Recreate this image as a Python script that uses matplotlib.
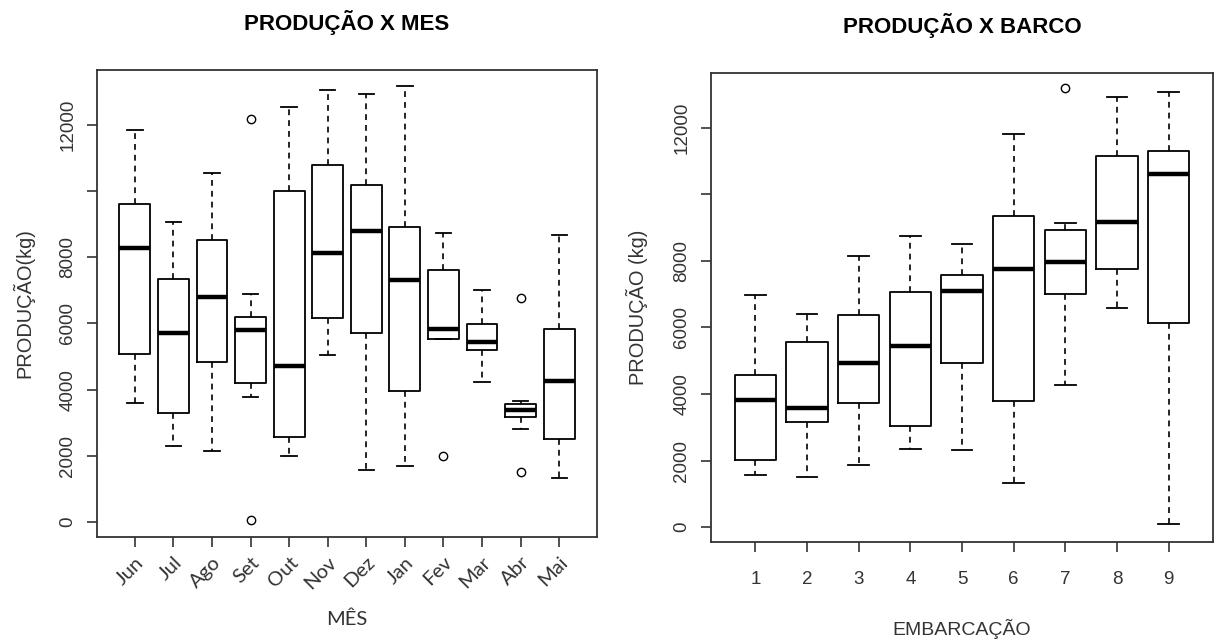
import matplotlib
matplotlib.use("Agg")
import matplotlib.pyplot as plt

# ---- Data: PRODUÇÃO x MÊS ----
months = ["Jun", "Jul", "Ago", "Set", "Out", "Nov", "Dez", "Jan", "Fev", "Mar", "Abr", "Mai"]
m_whislo = [3600, 2300, 2160, 3790, 2010, 5040, 1560, 1680, 5540, 4240, 2810, 1330]
m_q1     = [5080, 3290, 4840, 4200, 2580, 6150, 5720, 3970, 5540, 5210, 3180, 2510]
m_med    = [8280, 5720, 6790, 5810, 4700, 8130, 8780, 7320, 5840, 5440, 3390, 4270]
m_q3     = [9610, 7330, 8510, 6180, 9990, 10790, 10180, 8920, 7600, 5990, 3570, 5840]
m_whishi = [11830, 9070, 10530, 6900, 12530, 13040, 12940, 13160, 8730, 7020, 3650, 8660]
m_fliers = [[], [], [], [12180, 70], [], [], [], [], [2010], [], [6760, 1520], []]

# ---- Data: PRODUÇÃO x BARCO ----
boats = ["1", "2", "3", "4", "5", "6", "7", "8", "9"]
b_whislo = [1550, 1510, 1880, 2350, 2320, 1310, 4260, 6590, 80]
b_q1     = [2010, 3150, 3720, 3030, 4940, 3800, 7020, 7750, 6140]
b_med    = [3810, 3590, 4940, 5440, 7090, 7750, 7970, 9160, 10610]
b_q3     = [4560, 5560, 6370, 7080, 7590, 9350, 8920, 11150, 11310]
b_whishi = [6990, 6410, 8160, 8740, 8520, 11810, 9150, 12940, 13070]
b_fliers = [[], [], [], [], [], [], [13190], [], []]

y_ticks = [0, 2000, 4000, 6000, 8000, 10000, 12000]
y_ticklabels = ["0", "2000", "4000", "6000", "8000", "", "12000"]


def make_stats(lo, q1, med, q3, hi, fl):
    return [dict(whislo=a, q1=b, med=c, q3=d, whishi=e, fliers=f)
            for a, b, c, d, e, f in zip(lo, q1, med, q3, hi, fl)]


num_font = ["Liberation Sans", "DejaVu Sans"]
lab_font = ["Lato", "DejaVu Sans"]
txt_col = "#333333"

fig = plt.figure(figsize=(12.14, 6.4), dpi=100)
ax1 = fig.add_axes([0.0799, 0.1609, 0.4119, 0.7297])
ax2 = fig.add_axes([0.5857, 0.1531, 0.4135, 0.7328])

style = dict(
    boxprops=dict(color="black", linewidth=1.3),
    medianprops=dict(color="black", linewidth=3.2, solid_capstyle="butt"),
    whiskerprops=dict(color="black", linewidth=1.2, linestyle=(0, (3.5, 3))),
    capprops=dict(color="black", linewidth=1.3),
    flierprops=dict(marker="o", markerfacecolor="none", markeredgecolor="black",
                    markersize=6, markeredgewidth=1.0, linestyle="none"),
)


def draw(ax, stats, n):
    ax.bxp(stats, positions=range(1, n + 1), widths=0.8, capwidths=0.4,
           showfliers=True, patch_artist=False, **style)
    ax.set_xlim(0.5 - 0.04 * n, n + 0.5 + 0.04 * n)
    ax.set_ylim(-450, 13650)
    ax.set_yticks(y_ticks)
    ax.set_yticklabels(y_ticklabels, rotation=90, va="center", family=num_font,
                       fontsize=13.5, color=txt_col)
    for s in ax.spines.values():
        s.set_linewidth(1.3)
        s.set_color(txt_col)
    ax.tick_params(axis="both", direction="out", length=7, width=1.2, color=txt_col)
    ax.tick_params(axis="y", pad=8)


draw(ax1, make_stats(m_whislo, m_q1, m_med, m_q3, m_whishi, m_fliers), len(months))
ax1.set_xticks(range(1, len(months) + 1))
ax1.set_xticklabels(months, rotation=45, ha="right", va="top", rotation_mode="anchor",
                    family=lab_font, fontsize=14.5, color=txt_col)
ax1.tick_params(axis="x", pad=5)
ax1.set_ylabel("PRODUÇÃO(kg)", family=num_font, fontsize=14.4, color=txt_col, labelpad=18)
ax1.set_xlabel("MÊS", family=lab_font, fontsize=14.5, color=txt_col, labelpad=13)
ax1.set_title("PRODUÇÃO X MES", family=num_font, fontsize=16, fontweight="bold", pad=28.5)

draw(ax2, make_stats(b_whislo, b_q1, b_med, b_q3, b_whishi, b_fliers), len(boats))
ax2.set_xticks(range(1, len(boats) + 1))
ax2.set_xticklabels(boats, family=num_font, fontsize=13.5, color=txt_col)
ax2.tick_params(axis="x", pad=14)
ax2.set_ylabel("PRODUÇÃO (kg)", family=num_font, fontsize=14.4, color=txt_col, labelpad=18)
ax2.set_xlabel("EMBARCAÇÃO", family=num_font, fontsize=14, color=txt_col, labelpad=22)
ax2.set_title("PRODUÇÃO X BARCO", family=num_font, fontsize=16, fontweight="bold", pad=28.5)

fig.savefig("out.png", dpi=100)
